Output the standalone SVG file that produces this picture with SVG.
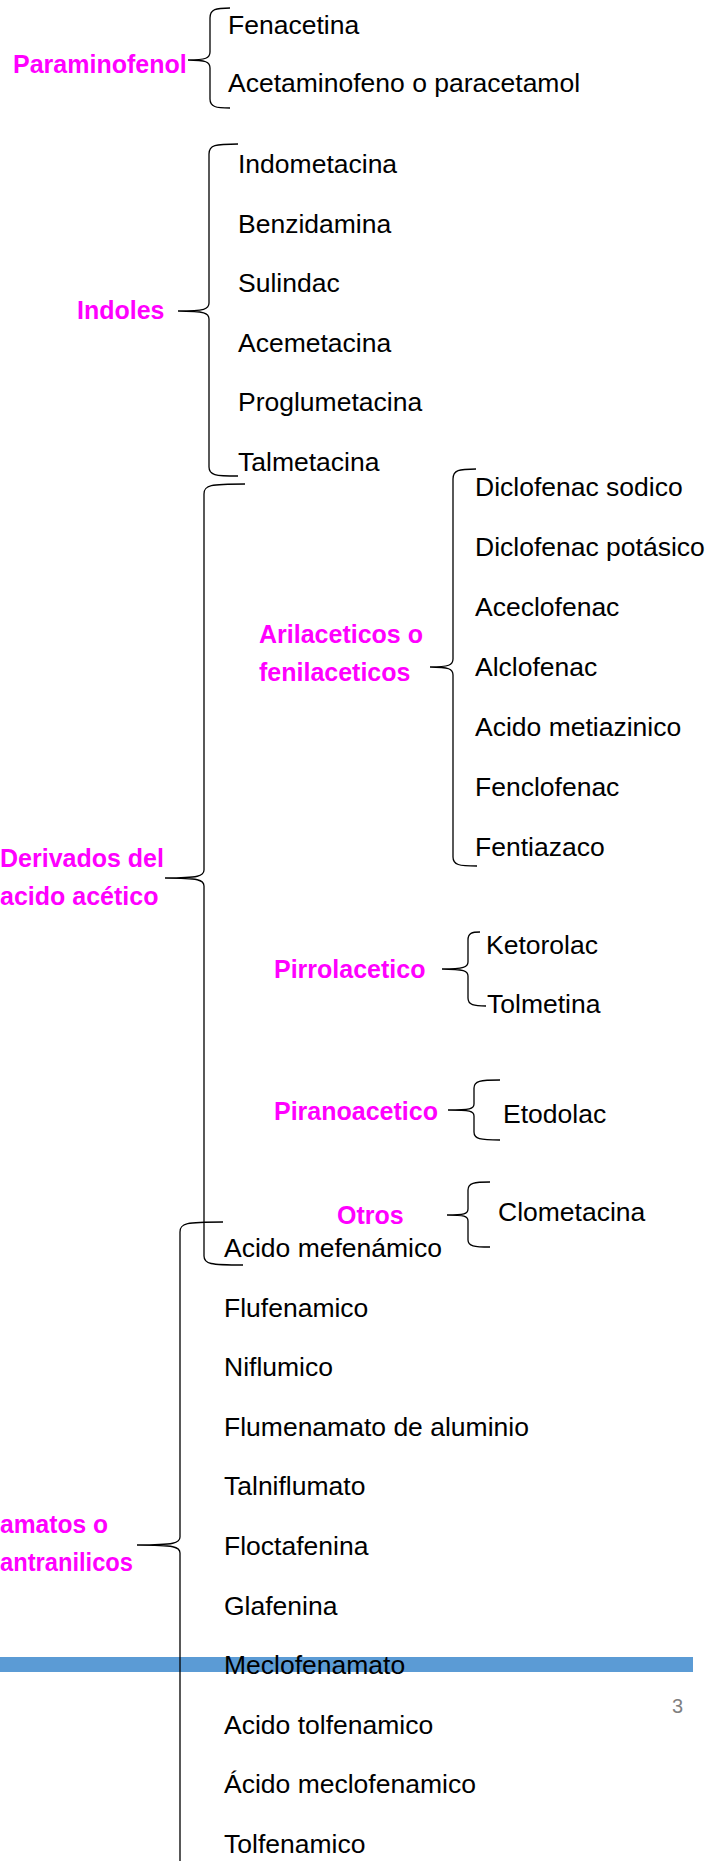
<svg xmlns="http://www.w3.org/2000/svg" width="707" height="1861" viewBox="0 0 707 1861">
<style>
.lbl{font-family:"Liberation Sans",Arial,sans-serif;font-weight:bold;font-size:25px;fill:#FF00FF}
.itm{font-family:"Liberation Sans",Arial,sans-serif;font-size:26.5px;fill:#000000}
.br{fill:none;stroke:#000000;stroke-width:1.3}
.pg{font-family:"Liberation Sans",Arial,sans-serif;font-size:20px;fill:#7F7F7F}
</style>
<rect id="footer-bar" x="0" y="1657" width="693" height="15" fill="#5B9BD5"/>
<text id="page-number" class="pg" x="672" y="1713">3</text>
<g id="connectors">
<path class="br" d="M230 8 C216 8 210 9 210 18 L210 52 C210 58 206 60 188 60 C206 60 210 62 210 68 L210 99 C210 107 216 108 230 108"/>
<path class="br" d="M238 144 C215 144 209 145 209 154 L209 303 C209 309 205 311 178 311 C205 311 209 313 209 319 L209 467 C209 475 215 476 238 476"/>
<path class="br" d="M245 484 C210 484 204 485 204 494 L204 870 C204 876 199 878 165 878 C199 878 204 880 204 886 L204 1256 C204 1264 210 1265 243 1265"/>
<path class="br" d="M476 469 C459 469 453 470 453 479 L453 659 C453 665 449 667 430 667 C449 667 453 669 453 675 L453 857 C453 865 459 866 477 866"/>
<path class="br" d="M480 932 C472 932 468 933 468 940 L468 962 C468 967 464 969 442 969 C464 969 468 971 468 976 L468 998 C468 1005 474 1006 486 1006"/>
<path class="br" d="M500 1080 C480 1080 474 1081 474 1088 L474 1104 C474 1109 470 1110 448 1110 C470 1110 474 1111 474 1116 L474 1132 C474 1139 480 1140 500 1140"/>
<path class="br" d="M490 1182 C474 1182 468 1183 468 1190 L468 1209 C468 1214 464 1215 447 1215 C464 1215 468 1216 468 1221 L468 1240 C468 1246 474 1247 490 1247"/>
<path class="br" d="M223 1222 C186 1222 180 1223 180 1232 L180 1537 C180 1543 175 1545 137 1545 C175 1545 180 1547 180 1553 L180 1870"/>
</g>
<g id="paraminofenol"><text class="lbl" x="13" y="73">Paraminofenol</text></g>
<g id="fenacetina"><text class="itm" x="228" y="34">Fenacetina</text></g>
<g id="acetaminofeno"><text class="itm" x="228" y="92">Acetaminofeno o paracetamol</text></g>
<g id="indoles"><text class="lbl" x="77" y="319">Indoles</text></g>
<g id="indometacina"><text class="itm" x="238" y="173">Indometacina</text></g>
<g id="benzidamina"><text class="itm" x="238" y="232.6">Benzidamina</text></g>
<g id="sulindac"><text class="itm" x="238" y="292.2">Sulindac</text></g>
<g id="acemetacina"><text class="itm" x="238" y="351.8">Acemetacina</text></g>
<g id="proglumetacina"><text class="itm" x="238" y="411.4">Proglumetacina</text></g>
<g id="talmetacina"><text class="itm" x="238" y="471">Talmetacina</text></g>
<g id="derivados"><text class="lbl" x="0" y="867">Derivados del</text><text class="lbl" x="0" y="905">acido acético</text></g>
<g id="arilaceticos"><text class="lbl" x="259" y="643">Arilaceticos o</text><text class="lbl" x="259" y="681">fenilaceticos</text></g>
<g id="diclofenac-sodico"><text class="itm" x="475" y="496">Diclofenac sodico</text></g>
<g id="diclofenac-potasico"><text class="itm" x="475" y="556">Diclofenac potásico</text></g>
<g id="aceclofenac"><text class="itm" x="475" y="616">Aceclofenac</text></g>
<g id="alclofenac"><text class="itm" x="475" y="676">Alclofenac</text></g>
<g id="acido-metiazinico"><text class="itm" x="475" y="736">Acido metiazinico</text></g>
<g id="fenclofenac"><text class="itm" x="475" y="796">Fenclofenac</text></g>
<g id="fentiazaco"><text class="itm" x="475" y="856">Fentiazaco</text></g>
<g id="pirrolacetico"><text class="lbl" x="274" y="978">Pirrolacetico</text></g>
<g id="ketorolac"><text class="itm" x="486" y="954">Ketorolac</text></g>
<g id="tolmetina"><text class="itm" x="487" y="1013">Tolmetina</text></g>
<g id="piranoacetico"><text class="lbl" x="274" y="1120">Piranoacetico</text></g>
<g id="etodolac"><text class="itm" x="503" y="1123">Etodolac</text></g>
<g id="otros"><text class="lbl" x="337" y="1224">Otros</text></g>
<g id="clometacina"><text class="itm" x="498" y="1221">Clometacina</text></g>
<g id="fenamatos"><text class="lbl" x="0" y="1533" textLength="108" lengthAdjust="spacingAndGlyphs">amatos o</text><text class="lbl" x="0" y="1571" textLength="133" lengthAdjust="spacingAndGlyphs">antranilicos</text></g>
<g id="acido-mefenamico"><text class="itm" x="224" y="1257">Acido mefenámico</text></g>
<g id="flufenamico"><text class="itm" x="224" y="1316.6">Flufenamico</text></g>
<g id="niflumico"><text class="itm" x="224" y="1376.2">Niflumico</text></g>
<g id="flumenamato"><text class="itm" x="224" y="1435.8">Flumenamato de aluminio</text></g>
<g id="talniflumato"><text class="itm" x="224" y="1495.4">Talniflumato</text></g>
<g id="floctafenina"><text class="itm" x="224" y="1555">Floctafenina</text></g>
<g id="glafenina"><text class="itm" x="224" y="1614.6">Glafenina</text></g>
<g id="meclofenamato"><text class="itm" x="224" y="1674.2">Meclofenamato</text></g>
<g id="acido-tolfenamico"><text class="itm" x="224" y="1733.8">Acido tolfenamico</text></g>
<g id="acido-meclofenamico"><text class="itm" x="224" y="1793.4">Ácido meclofenamico</text></g>
<g id="tolfenamico"><text class="itm" x="224" y="1853">Tolfenamico</text></g>
</svg>
